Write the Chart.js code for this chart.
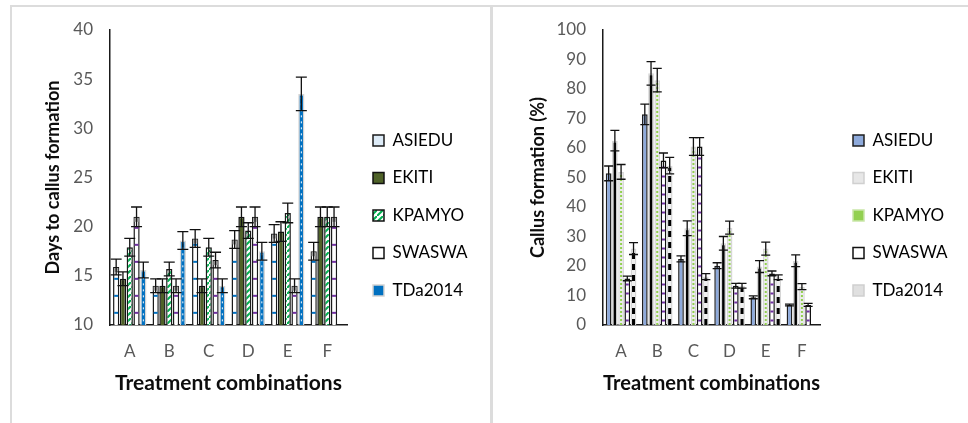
<!DOCTYPE html>
<html>
<head>
<meta charset="utf-8">
<script src="https://cdn.jsdelivr.net/npm/chart.js@4.4.1/dist/chart.umd.min.js"></script>
<style>
  html, body { margin: 0; padding: 0; background: #fff; width: 968px; height: 423px; overflow: hidden; }
  #wrap { position: relative; width: 968px; height: 423px; }
  .rule { position: absolute; background: #dcdcdc; }
  .panel { position: absolute; top: 0; height: 423px; }
</style>
</head>
<body>
<div id="wrap">
  <div class="rule" style="left:10px;top:5px;width:958px;height:2px"></div>
  <div class="rule" style="left:10px;top:5px;width:2px;height:418px"></div>
  <div class="rule" style="left:490px;top:5px;width:3px;height:418px"></div>
  <div class="panel" style="left:11px;width:479px"><canvas id="daysChart"></canvas></div>
  <div class="panel" style="left:493px;width:475px"><canvas id="callusChart"></canvas></div>
</div>
<script>
// categories and varieties
const groups = ['A', 'B', 'C', 'D', 'E', 'F'];
const varieties = ['ASIEDU', 'EKITI', 'KPAMYO', 'SWASWA', 'TDa2014'];

// days to callus formation (left chart)
const daysAsiedu = [15.9, 14.0, 18.8, 18.7, 19.3, 17.5];
const daysEkiti = [14.7, 14.0, 14.0, 21.0, 19.5, 21.0];
const daysKpamyo = [17.9, 15.7, 17.9, 19.6, 21.4, 21.0];
const daysSwaswa = [21.0, 14.0, 16.6, 21.0, 14.0, 21.0];
const daysTda = [15.6, 18.6, 14.0, 17.5, 33.5, 0];
const daysAsieduErr = [0.8, 0.7, 0.9, 0.9, 0.9, 0.9];
const daysEkitiErr = [0.7, 0.7, 0.7, 1.0, 1.0, 1.0];
const daysKpamyoErr = [0.9, 0.7, 0.9, 0.8, 1.0, 1.0];
const daysSwaswaErr = [1.0, 0.7, 0.8, 1.0, 0.7, 1.0];
const daysTdaErr = [0.8, 0.9, 0.7, 0.9, 1.7, 0];

// callus formation % (right chart)
const callusAsiedu = [51.4, 71.4, 22.4, 20.1, 9.4, 6.8];
const callusEkiti = [62.5, 85.3, 32.8, 27.7, 19.8, 21.8];
const callusKpamyo = [51.9, 83.0, 60.5, 33.0, 25.9, 13.0];
const callusSwaswa = [15.8, 55.8, 60.5, 13.3, 17.5, 6.8];
const callusTda = [25.9, 54.0, 16.4, 13.3, 16.2, 0];
const callusAsieduErr = [2.5, 3.5, 1.0, 1.0, 0.5, 0.3];
const callusEkitiErr = [3.5, 4.0, 2.5, 2.3, 2.0, 2.0];
const callusKpamyoErr = [2.5, 4.0, 3.0, 2.2, 2.2, 1.0];
const callusSwaswaErr = [0.8, 2.5, 3.0, 0.8, 0.8, 0.5];
const callusTdaErr = [2.0, 2.8, 1.0, 0.8, 0.8, 0];

const FONT = 'Lato';
Chart.defaults.font.family = FONT;
Chart.defaults.color = '#595959';

// little diagonal stripe fill for KPAMYO on the left chart
function stripePattern(color) {
    const c = document.createElement('canvas');
    c.width = 6; c.height = 6;
    const g = c.getContext('2d');
    g.fillStyle = '#fff';
    g.fillRect(0, 0, 6, 6);
    g.strokeStyle = color;
    g.lineWidth = 2;
    g.beginPath();
    g.moveTo(-1, 7); g.lineTo(7, -1);
    g.stroke();
    return g.createPattern(c, 'repeat');
}

// draws the Excel-like marks inside bars, then the error bars
const barExtras = {
    id: 'barExtras',
    afterDatasetsDraw(chart, args, opts) {
        const ctx = chart.ctx;
        const yScale = chart.scales.y;
        const area = chart.chartArea;
        ctx.save();
        ctx.beginPath();
        ctx.rect(area.left, area.top - 40, area.right - area.left, area.bottom - area.top + 40);
        ctx.clip();
        chart.data.datasets.forEach((ds, di) => {
            const meta = chart.getDatasetMeta(di);
            meta.data.forEach((bar, i) => {
                const p = bar.getProps(['x', 'y', 'base', 'width'], true);
                const d = ds.decor;
                if (d && ds.data[i] > yScale.min) {
                    ctx.save();
                    if (d.cap) {
                        ctx.fillStyle = '#a6a6a6';
                        ctx.fillRect(p.x - p.width / 2 + 1, p.y + 1, p.width - 2, 4);
                    }
                    if (d.type === 'hdash') {
                        ctx.strokeStyle = d.color;
                        ctx.lineWidth = d.thick;
                        for (let yy = p.base - d.gap / 2; yy > p.y + 6; yy -= d.gap) {
                            ctx.beginPath();
                            ctx.moveTo(p.x - d.len / 2, yy);
                            ctx.lineTo(p.x + d.len / 2, yy);
                            ctx.stroke();
                        }
                    } else if (d.type === 'vline') {
                        ctx.strokeStyle = d.color;
                        ctx.lineWidth = d.thick;
                        ctx.setLineDash(d.dash || []);
                        ctx.beginPath();
                        ctx.moveTo(p.x, p.base);
                        ctx.lineTo(p.x, p.y + 2);
                        ctx.stroke();
                    }
                    ctx.restore();
                }
                const e = ds.errors ? ds.errors[i] : 0;
                if (!e) return;
                const v = ds.data[i];
                const yt = yScale.getPixelForValue(v + e);
                const yb = yScale.getPixelForValue(v - e);
                const hw = opts.cap / 2;
                ctx.strokeStyle = '#111';
                ctx.lineWidth = 1.3;
                ctx.beginPath();
                ctx.moveTo(p.x, yt); ctx.lineTo(p.x, yb);
                ctx.moveTo(p.x - hw, yt); ctx.lineTo(p.x + hw, yt);
                ctx.moveTo(p.x - hw, yb); ctx.lineTo(p.x + hw, yb);
                ctx.stroke();
            });
        });
        ctx.restore();
    }
};

function textWidth(list, font) {
    const g = document.createElement('canvas').getContext('2d');
    g.font = font;
    return Math.max(...list.map(t => g.measureText(t).width));
}

function makeChart(id, cfg) {
    const legendFont = 17;
    const legendPad = 20.5;
    const colW = 11 + legendFont / 2 + textWidth(varieties, legendFont + 'px ' + FONT);
    // legend box should sit at boxX, plot ends at plotRight (canvas px)
    const legendLeft = cfg.boxX - legendPad;
    const legendW = legendPad + colW + 10;
    const padRight = cfg.width - (legendLeft + legendW);

    return new Chart(document.getElementById(id), {
        type: 'bar',
        data: {
            labels: groups,
            datasets: cfg.datasets
        },
        plugins: [barExtras],
        options: {
            responsive: false,
            animation: false,
            layout: { padding: { top: 8, right: padRight, bottom: 0, left: 0 } },
            datasets: { bar: { categoryPercentage: 0.86, barPercentage: 0.92 } },
            plugins: {
                tooltip: { enabled: false },
                barExtras: { cap: cfg.cap },
                legend: {
                    position: 'right',
                    maxWidth: legendW + 2,
                    labels: {
                        boxWidth: 11,
                        boxHeight: 11,
                        padding: legendPad,
                        color: '#595959',
                        font: { size: legendFont },
                        generateLabels(chart) {
                            return chart.data.datasets.map((ds, i) => ({
                                text: ds.label,
                                fillStyle: ds.legendFill,
                                strokeStyle: ds.legendStroke,
                                lineWidth: 1.5,
                                datasetIndex: i
                            }));
                        }
                    }
                }
            },
            scales: {
                x: {
                    grid: { display: false, drawTicks: false },
                    border: { display: true, color: '#1a1a1a', width: 1.5 },
                    ticks: { padding: 16, font: { size: 17 }, color: '#595959' },
                    title: {
                        display: true,
                        text: 'Treatment combinations',
                        color: '#0d0d0d',
                        font: { size: 21, weight: 'bold' },
                        padding: { top: 0, bottom: 27 }
                    },
                    afterFit(s) { s.height = 98; }
                },
                y: {
                    min: cfg.min, max: cfg.max,
                    grid: { display: false, drawTicks: false },
                    border: { display: true, color: '#1a1a1a', width: 1.5 },
                    ticks: { stepSize: cfg.step, padding: 17, font: { size: 17 }, color: '#595959' },
                    title: {
                        display: true,
                        text: cfg.yTitle,
                        color: '#0d0d0d',
                        font: { size: 18, weight: 'bold' },
                        padding: { top: cfg.yTitleOffset, bottom: 0 }
                    },
                    afterFit(s) { s.width = cfg.axisX; }
                },
                padTop: {
                    type: 'linear', position: 'top',
                    grid: { display: false }, border: { display: false }, ticks: { display: false },
                    afterFit(s) { s.height = 22; }
                },
                padRight: {
                    type: 'linear', position: 'right',
                    grid: { display: false }, border: { display: false }, ticks: { display: false },
                    afterFit(s) { s.width = legendLeft - cfg.plotRight; }
                }
            }
        }
    });
}

const daysCanvas = document.getElementById('daysChart');
daysCanvas.width = 479; daysCanvas.height = 423;
const callusCanvas = document.getElementById('callusChart');
callusCanvas.width = 475; callusCanvas.height = 423;

makeChart('daysChart', {
    width: 479, axisX: 99, plotRight: 336, boxX: 362,
    min: 10, max: 40, step: 5, cap: 11,
    yTitle: 'Days to callus formation', yTitleOffset: 31,
    datasets: [
        { label: 'ASIEDU', data: daysAsiedu, errors: daysAsieduErr,
          backgroundColor: '#ffffff', borderColor: '#1a1a1a', borderWidth: 1.5,
          decor: { type: 'hdash', color: '#0070c0', gap: 17, len: 4, thick: 2, cap: true },
          legendFill: '#ddebf7', legendStroke: '#1a1a1a' },
        { label: 'EKITI', data: daysEkiti, errors: daysEkitiErr,
          backgroundColor: '#4f6228', borderColor: '#111', borderWidth: 1.5,
          legendFill: '#4f6228', legendStroke: '#111' },
        { label: 'KPAMYO', data: daysKpamyo, errors: daysKpamyoErr,
          backgroundColor: stripePattern('#00b050'), borderColor: '#1a1a1a', borderWidth: 1.5,
          legendFill: stripePattern('#00b050'), legendStroke: '#111' },
        { label: 'SWASWA', data: daysSwaswa, errors: daysSwaswaErr,
          backgroundColor: '#ffffff', borderColor: '#1a1a1a', borderWidth: 1.5,
          decor: { type: 'hdash', color: '#7030a0', gap: 17, len: 4, thick: 2, cap: true },
          legendFill: '#ffffff', legendStroke: '#111' },
        { label: 'TDa2014', data: daysTda, errors: daysTdaErr,
          backgroundColor: '#0070c0', borderColor: '#d4d4d4', borderWidth: 1.5,
          decor: { type: 'vline', color: '#ffffff', thick: 1, dash: [2, 4] },
          legendFill: '#0070c0', legendStroke: '#d4d4d4' }
    ]
});

makeChart('callusChart', {
    width: 475, axisX: 110, plotRight: 327, boxX: 360,
    min: 0, max: 100, step: 10, cap: 9,
    yTitle: 'Callus formation (%)', yTitleOffset: 34,
    datasets: [
        { label: 'ASIEDU', data: callusAsiedu, errors: callusAsieduErr,
          backgroundColor: '#8eaadb', borderColor: '#1f1f1f', borderWidth: 1.5,
          legendFill: '#8eaadb', legendStroke: '#1f1f1f' },
        { label: 'EKITI', data: callusEkiti, errors: callusEkitiErr,
          backgroundColor: '#f2f2f2', borderColor: '#d6d6d6', borderWidth: 1.5,
          decor: { type: 'vline', color: '#000', thick: 2.5 },
          legendFill: '#e7e7e7', legendStroke: '#d0d0d0' },
        { label: 'KPAMYO', data: callusKpamyo, errors: callusKpamyoErr,
          backgroundColor: '#ececec', borderColor: '#d6d6d6', borderWidth: 1.5,
          decor: { type: 'vline', color: '#92d050', thick: 2, dash: [2, 2] },
          legendFill: '#92d050', legendStroke: '#c9e6a8' },
        { label: 'SWASWA', data: callusSwaswa, errors: callusSwaswaErr,
          backgroundColor: '#ffffff', borderColor: '#111', borderWidth: 1.5,
          decor: { type: 'hdash', color: '#7030a0', gap: 9, len: 3, thick: 2 },
          legendFill: '#ffffff', legendStroke: '#111' },
        { label: 'TDa2014', data: callusTda, errors: callusTdaErr,
          backgroundColor: '#efefef', borderColor: '#d6d6d6', borderWidth: 1.5,
          decor: { type: 'vline', color: '#000', thick: 3, dash: [6, 5] },
          legendFill: '#e0e0e0', legendStroke: '#cfcfcf' }
    ]
});
</script>
</body>
</html>
